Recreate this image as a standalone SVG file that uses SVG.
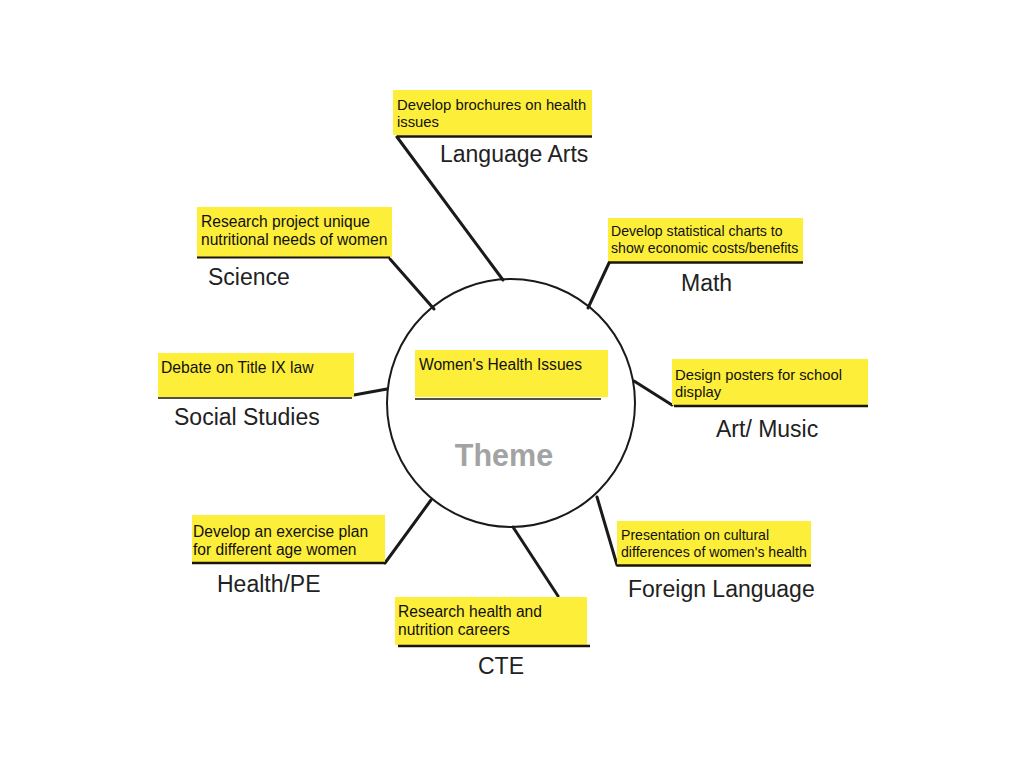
<svg xmlns="http://www.w3.org/2000/svg" width="1024" height="768" viewBox="0 0 1024 768">
<style>
.box{fill:#fdee3a}
.ul{stroke:#1a1408;stroke-width:2.5;fill:none}
.t{font-family:"Liberation Sans",Arial,sans-serif;font-size:15px;fill:#111}
.lbl{font-family:"Liberation Sans",Arial,sans-serif;font-size:23px;fill:#222}
.con{stroke:#1a1a1a;stroke-width:3;fill:none;stroke-linecap:round}
</style>
<rect width="1024" height="768" fill="#fff"/>
<g id="connectors">
<line class="con" x1="397" y1="137" x2="503" y2="280"/>
<line class="con" x1="390" y1="259" x2="434" y2="309"/>
<line class="con" x1="609" y1="263" x2="588" y2="308"/>
<line class="con" x1="354" y1="395" x2="387" y2="389"/>
<line class="con" x1="634" y1="381" x2="672" y2="405"/>
<line class="con" x1="385" y1="563" x2="431" y2="500"/>
<line class="con" x1="513" y1="527" x2="558" y2="596"/>
<line class="con" x1="597" y1="497" x2="617" y2="565"/>
</g>
<g id="theme">
<circle cx="511" cy="403" r="124" fill="none" stroke="#1a1a1a" stroke-width="2"/>
<rect class="box" x="415" y="350" width="193" height="47"/>
<line class="ul" x1="415" y1="399" x2="601" y2="399" style="stroke-width:1.5"/>
<text class="t" x="419" y="370" style="font-size:15.6px">Women's Health Issues</text>
<text x="504" y="466" text-anchor="middle" font-family="Liberation Sans,Arial,sans-serif" font-size="30.5" font-weight="bold" fill="#a3a3a3">Theme</text>
</g>
<g id="language-arts">
<rect class="box" x="393" y="90" width="199" height="45"/>
<line class="ul" x1="397" y1="136.5" x2="592" y2="136.5"/>
<text class="t" x="397" y="110" style="font-size:14.8px">Develop brochures on health</text>
<text class="t" x="397" y="127" style="font-size:14.8px">issues</text>
<text class="lbl" x="440" y="162">Language Arts</text>
</g>
<g id="science">
<rect class="box" x="197" y="207" width="195" height="50"/>
<line class="ul" x1="197" y1="257.5" x2="390" y2="257.5" style="stroke-width:2"/>
<text class="t" x="201" y="227" style="font-size:15.6px">Research project unique</text>
<text class="t" x="201" y="245" style="font-size:15.6px">nutritional needs of women</text>
<text class="lbl" x="208" y="285">Science</text>
</g>
<g id="math">
<rect class="box" x="608" y="218" width="195" height="44"/>
<line class="ul" x1="608" y1="262.5" x2="803" y2="262.5"/>
<text class="t" x="611" y="236" style="font-size:14.1px">Develop statistical charts to</text>
<text class="t" x="611" y="253" style="font-size:14.1px">show economic costs/benefits</text>
<text class="lbl" x="681" y="291">Math</text>
</g>
<g id="social-studies">
<rect class="box" x="158" y="353" width="196" height="44"/>
<line class="ul" x1="158" y1="398" x2="352" y2="398" style="stroke-width:1.5"/>
<text class="t" x="161" y="373" style="font-size:15.7px">Debate on Title IX law</text>
<text class="lbl" x="174" y="425">Social Studies</text>
</g>
<g id="art-music">
<rect class="box" x="672" y="359" width="196" height="46"/>
<line class="ul" x1="674" y1="406" x2="868" y2="406"/>
<text class="t" x="675" y="380" style="font-size:14.8px">Design posters for school</text>
<text class="t" x="675" y="397" style="font-size:14.8px">display</text>
<text class="lbl" x="716" y="437">Art/ Music</text>
</g>
<g id="health-pe">
<rect class="box" x="192" y="515" width="193" height="47"/>
<line class="ul" x1="192" y1="563" x2="385" y2="563"/>
<text class="t" x="193" y="537" style="font-size:15.6px">Develop an exercise plan</text>
<text class="t" x="193" y="555" style="font-size:15.6px">for different age women</text>
<text class="lbl" x="217" y="592">Health/PE</text>
</g>
<g id="cte">
<rect class="box" x="395" y="597" width="192" height="48"/>
<line class="ul" x1="398" y1="646" x2="590" y2="646"/>
<text class="t" x="398" y="617" style="font-size:15.6px">Research health and</text>
<text class="t" x="398" y="635" style="font-size:15.6px">nutrition careers</text>
<text class="lbl" x="478" y="674">CTE</text>
</g>
<g id="foreign-language">
<rect class="box" x="617" y="521" width="194" height="44"/>
<line class="ul" x1="617" y1="565.5" x2="811" y2="565.5"/>
<text class="t" x="621" y="540" style="font-size:14.1px">Presentation on cultural</text>
<text class="t" x="621" y="557" style="font-size:14.1px">differences of women's health</text>
<text class="lbl" x="628" y="597">Foreign Language</text>
</g>
</svg>
